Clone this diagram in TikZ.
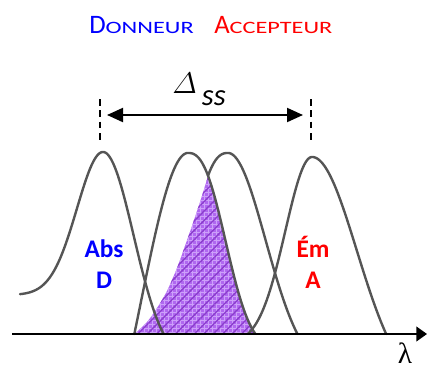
\documentclass[tikz,border=0pt]{standalone}
\usepackage{amsmath}
\usepackage{fontspec}
\setmainfont{Carlito}
\newfontfamily\lamfont{Liberation Serif}
\usetikzlibrary{arrows.meta,patterns.meta}
\definecolor{tblue}{RGB}{0,0,255}
\definecolor{tred}{RGB}{255,0,0}
\definecolor{curvegray}{RGB}{85,85,85}
\definecolor{purplebase}{RGB}{176,104,240}
\definecolor{purplegrid}{RGB}{205,160,250}
\definecolor{purplestripe}{RGB}{138,60,205}
\newcommand\fakesc[2]{#1\scalebox{1.4}[1]{\fontsize{13}{15}\selectfont #2}}
\begin{document}
\begin{tikzpicture}[x=0.75pt,y=-0.75pt,
  declare function={side(\x,\m,\H,\B,\w,\p)=min(334,334-((\H+\B)*exp(-((abs(\x-\m)+0.001)/\w)^\p)-\B));},
  spec/.style={draw=curvegray, line width=1.8pt, line join=round, line cap=round},
  titletxt/.style={anchor=base west, inner sep=0pt, font=\fontsize{20}{24}\selectfont},
  lbl/.style={anchor=base, inner sep=0pt, font=\bfseries\fontsize{19}{22}\selectfont},
  guide/.style={draw=black, line width=1.2pt, dash pattern=on 5pt off 3.5pt},
  dimarrow/.style={draw=black, line width=1.5pt, {Triangle[length=12pt,width=10.5pt]}-{Triangle[length=12pt,width=10.5pt]}},
  axis/.style={draw=black, line width=1.5pt, -{Triangle[length=8pt,width=11pt]}}]
\useasboundingbox (0,0) rectangle (427,368);

% overlap region (left edge, then right flank of the donor emission)
\def\overlap{plot[smooth,tension=0.55] coordinates {(134.5,334) (147,322) (157,308) (167,291) (177,268) (185,246) (193,223) (201,199) (208,176.2)}
  -- plot[domain=208:255.4,samples=50] (\x,{side(\x,188,181,15,46.2,2.5)}) -- cycle}
\path[fill=purplebase] \overlap;
\path[pattern={Hatch[angle=0,distance=3pt,line width=0.35pt]}, pattern color=purplegrid] \overlap;
\path[pattern={Lines[angle=45,distance=5pt,line width=1pt]}, pattern color=purplestripe] \overlap;

% spectra
% Abs D
\draw[spec] plot[domain=20:103,samples=60] (\x,{334-(39+143*exp(-(\x-103)*(\x-103)/1350))})
  -- plot[domain=103:163.5,samples=50] (\x,{side(\x,103,182,30,43.3,2)});
% Em D
\draw[spec] plot[domain=134.3:188,samples=50] (\x,{side(\x,188,181,200,66.86,2)})
  -- plot[domain=188:255.4,samples=60] (\x,{side(\x,188,181,15,46.2,2.5)});
% Abs A
\draw[spec] plot[domain=208:228,samples=15] (\x,{side(\x,228,181,15,46.2,2.5)})
  -- plot[domain=228:297.4,samples=60] (\x,{side(\x,228,181,40,53.1,2)});
% Em A
\draw[spec] plot[domain=247.7:312,samples=60] (\x,{side(\x,312,177,10,37.6,2)})
  -- plot[domain=312:386.1,samples=60] (\x,{side(\x,312,177,60,63.25,2)});

% axis
\coordinate (ax0) at (12,334);
\coordinate (ax1) at (427,334);
\draw[axis] (ax0) -- (ax1);
\node[anchor=base, inner sep=0pt, font=\lamfont\fontsize{22}{24}\selectfont] (lam) at (405,363) {λ};

% Stokes shift
\coordinate (gl0) at (100,99);
\coordinate (gl1) at (100,143);
\coordinate (gr0) at (311,99);
\coordinate (gr1) at (311,143);
\coordinate (al) at (100,115);
\coordinate (ar) at (311,115);
\draw[guide] (gl0) -- (gl1);
\draw[guide] (gr0) -- (gr1);
\draw[dimarrow, shorten <=5.25pt, shorten >=6pt] (al) -- (ar);
\node[anchor=base west, inner sep=0pt] (delta) at (172,93)
  {\scalebox{0.9}{\Huge$\varDelta$}\hspace{4pt}\raisebox{-9pt}{\fontsize{23}{26}\selectfont\itshape ss}};

% title
\node[titletxt, text=tblue] (don) at (89,33) {\fakesc{D}{ONNEUR}};
\node[titletxt, text=tred] (acc) at (214,33) {\fakesc{A}{CCEPTEUR}};

% labels
\node[lbl, text=tblue] (abs) at (104,257) {Abs};
\node[lbl, text=tblue] (absd) at (104,288) {D};
\node[lbl, text=tred] (em) at (313,257) {Ém};
\node[lbl, text=tred] (ema) at (313,288) {A};
\end{tikzpicture}
\end{document}
